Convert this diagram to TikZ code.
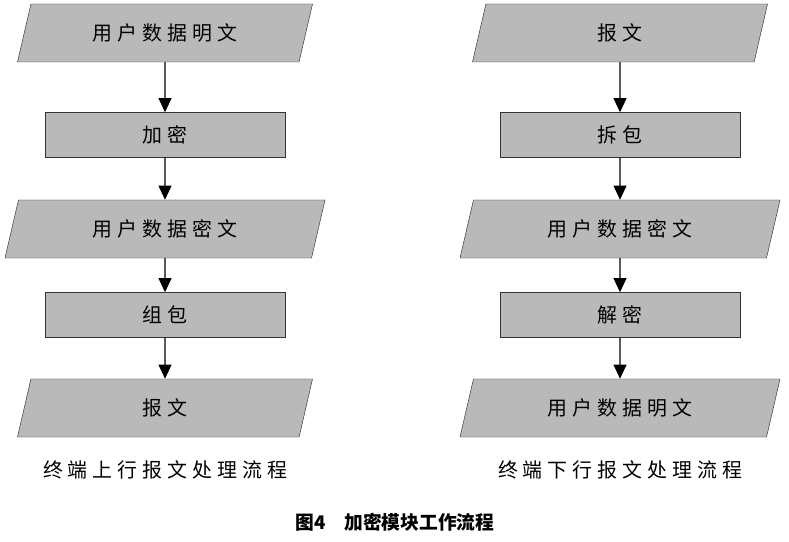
\documentclass[tikz,border=0pt]{standalone}
\usepackage{fontspec}
\newfontfamily\cjk[LetterSpace=25]{Noto Sans CJK SC}
\newfontfamily\cjkb[LetterSpace=0]{Noto Sans CJK SC}
\usetikzlibrary{positioning,arrows.meta,shapes.geometric}
\tikzset{
  data/.style={trapezium, trapezium left angle=63, trapezium right angle=117,
    trapezium stretches body, draw=black!80, fill=gray!55,
    minimum height=1.74cm, text width=5cm, align=center,
    font=\cjk\fontsize{17}{20}\selectfont},
  proc/.style={rectangle, draw=black!80, fill=gray!55,
    minimum width=7.2cm, minimum height=1.35cm,
    font=\cjk\fontsize{17}{20}\selectfont},
  flow/.style={-{Triangle[length=12pt,width=11pt]}, line width=1pt},
  caption/.style={font=\cjk\fontsize{17}{20}\selectfont}
}
\begin{document}
\begin{tikzpicture}[x=0.03cm,y=-0.03cm]
  \useasboundingbox (0,0) rectangle (789,542);
  % left column
  \node[data, minimum width=8.85cm] (l1) at (165,33) {用户数据明文};
  \node[proc] (l2) at (165,135) {加密};
  \node[data, minimum width=9.6cm] (l3) at (165,229) {用户数据密文};
  \node[proc] (l4) at (165,315) {组包};
  \node[data, minimum width=8.85cm] (l5) at (165,408) {报文};
  \node[caption] (lc) at (165,470) {终端上行报文处理流程};
  \draw[flow] (l1) -- (l2);
  \draw[flow] (l2) -- (l3);
  \draw[flow] (l3) -- (l4);
  \draw[flow] (l4) -- (l5);
  % right column
  \node[data, minimum width=8.85cm] (r1) at (620,33) {报文};
  \node[proc] (r2) at (620,135) {拆包};
  \node[data, minimum width=9.6cm] (r3) at (620,229) {用户数据密文};
  \node[proc] (r4) at (620,315) {解密};
  \node[data, minimum width=9.6cm] (r5) at (620,408) {用户数据明文};
  \node[caption] (rc) at (620,470) {终端下行报文处理流程};
  \draw[flow] (r1) -- (r2);
  \draw[flow] (r2) -- (r3);
  \draw[flow] (r3) -- (r4);
  \draw[flow] (r4) -- (r5);
  % title
  \node[font=\cjkb\bfseries\fontsize{16}{19}\selectfont] (title) at (395,522) {图4\quad 加密模块工作流程};
\end{tikzpicture}
\end{document}
